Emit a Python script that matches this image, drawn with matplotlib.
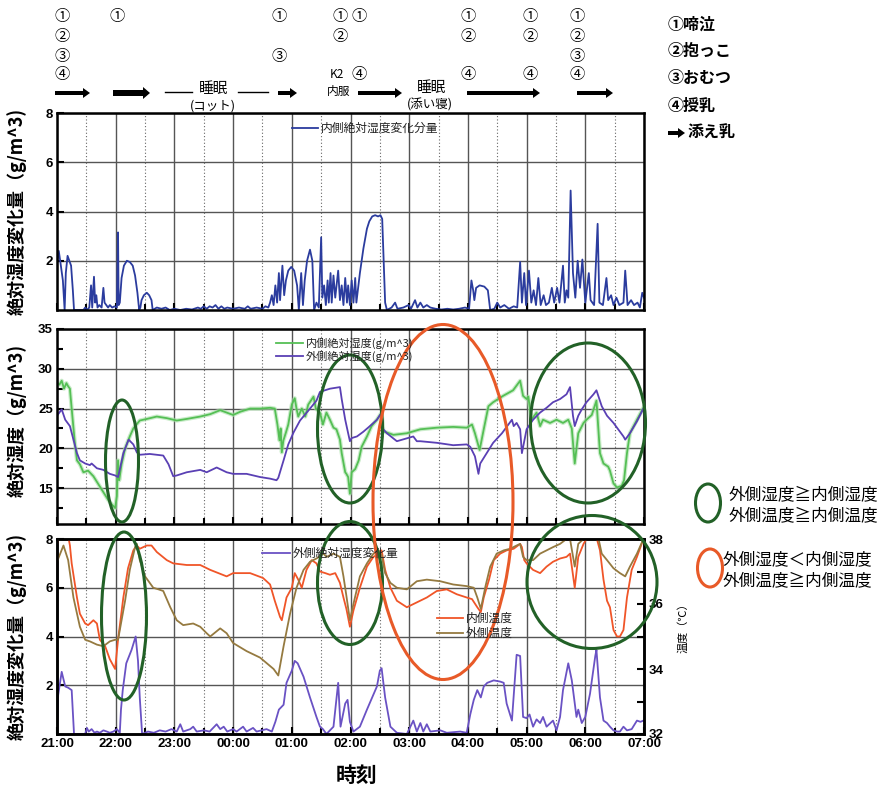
import numpy as np
import matplotlib
matplotlib.use('Agg')
import matplotlib.pyplot as plt
from matplotlib.patches import Ellipse, FancyArrow

plt.rcParams['font.family'] = ['Noto Sans CJK JP', 'DejaVu Sans']

# ---------------- data (time in hours after 21:00) ----------------
hour_labels = ["21:00", "22:00", "23:00", "00:00", "01:00", "02:00",
               "03:00", "04:00", "05:00", "06:00", "07:00"]

# panel 1: 内側絶対湿度変化分量
in_delta_t = [0.00,0.03,0.06,0.10,0.13,0.15,0.18,0.21,0.24,0.27,0.29,
    0.45,0.48,0.51,0.55,0.58,0.60,0.63,0.65,0.67,0.69,0.72,0.76,0.79,0.81,0.84,0.87,0.90,0.94,0.98,1.02,
    1.04,1.05,1.07,1.10,1.14,1.19,1.24,1.29,1.33,1.37,1.40,1.42,1.44,1.48,1.53,1.57,1.61,1.63,
    1.70,1.78,1.85,1.92,2.00,2.10,2.20,2.30,2.40,2.45,2.50,2.55,2.60,2.65,2.70,2.75,2.80,2.85,2.90,
    3.00,3.10,3.20,3.25,3.30,3.40,3.50,3.55,3.60,
    3.63,3.66,3.69,3.72,3.75,3.78,3.80,3.84,3.87,3.90,3.94,3.99,4.04,4.09,4.12,4.16,4.19,4.22,4.26,
    4.31,4.35,4.38,4.42,4.46,4.50,4.52,4.55,4.58,4.61,4.63,
    4.66,4.68,4.71,4.74,4.79,4.82,4.85,4.88,4.91,4.94,4.96,4.99,5.02,5.05,5.08,5.10,5.16,5.22,5.28,
    5.32,5.37,5.42,5.47,5.51,5.54,5.59,5.62,5.70,5.76,5.80,5.90,5.99,6.03,6.10,6.14,6.19,6.24,6.30,
    6.36,6.45,6.55,6.65,6.75,6.85,6.95,7.02,7.06,7.09,7.11,7.14,7.20,7.28,7.34,7.38,7.45,7.50,7.55,
    7.62,7.70,7.78,7.84,7.89,7.92,7.96,7.99,8.04,8.08,8.12,8.16,8.20,8.24,8.29,8.33,8.38,8.43,8.47,
    8.52,8.56,8.62,8.65,8.68,8.71,8.75,8.79,8.83,8.87,8.91,8.95,9.00,9.06,9.09,9.15,9.21,9.24,9.30,
    9.36,9.39,9.44,9.48,9.53,9.58,9.65,9.68,9.72,9.78,9.83,9.89,9.93,9.97,10.0]
in_delta_v = [1.9,2.4,1.9,1.2,0.0,1.5,2.2,2.0,1.8,0.8,0.0,
    0.0,0.1,0.0,0.1,1.0,0.1,1.35,0.3,0.6,0.1,0.2,0.1,0.9,0.3,0.2,0.1,0.2,0.1,0.15,0.1,
    3.15,0.2,0.3,1.3,1.8,2.0,1.95,1.8,1.4,0.7,0.0,0.1,0.4,0.6,0.7,0.6,0.4,0.0,
    0.1,0.05,0.1,0.0,0.05,0.0,0.05,0.02,0.1,0.05,0.15,0.05,0.15,0.1,0.2,0.05,0.15,0.05,0.1,
    0.05,0.1,0.05,0.15,0.05,0.1,0.05,0.15,0.1,
    0.3,0.6,0.2,1.0,0.3,1.5,0.4,1.8,0.6,1.2,1.6,1.75,1.6,1.0,0.0,1.5,0.2,1.2,2.0,
    2.45,2.0,0.0,0.3,0.1,2.95,0.5,1.0,0.2,1.2,0.3,
    1.5,0.3,1.4,0.5,1.6,0.4,1.0,0.2,1.3,0.3,1.0,0.2,1.2,0.3,1.3,0.3,1.5,2.5,3.3,
    3.6,3.8,3.85,3.8,3.85,3.7,0.3,0.0,0.1,0.3,0.05,0.1,0.2,0.05,0.4,0.1,0.3,0.1,0.2,
    0.1,0.05,0.02,0.05,0.02,0.05,0.1,0.05,1.2,0.8,0.4,0.9,1.0,0.95,0.8,0.0,0.05,0.3,0.1,
    0.2,0.05,0.15,0.1,1.95,0.3,1.5,0.2,1.6,0.3,0.8,0.2,1.3,0.2,0.6,0.2,0.3,0.9,0.3,
    0.9,0.3,1.8,0.3,0.8,0.5,4.85,1.5,0.5,2.0,0.9,2.05,0.3,1.5,0.4,0.2,3.5,0.3,0.2,
    1.3,0.4,0.6,0.2,0.5,0.2,0.3,1.6,0.2,0.4,0.2,0.3,0.1,0.7,0.5]

# panel 2: 内側絶対湿度 / 外側絶対湿度
in_abs_t = [0.00,0.04,0.08,0.12,0.16,0.19,0.22,0.25,0.30,0.34,0.39,0.45,0.53,0.62,0.705,0.79,0.875,
    0.93,0.99,1.02,1.04,1.06,1.10,1.16,1.24,1.30,1.41,1.53,1.70,1.87,2.04,2.21,2.44,2.61,2.78,2.89,
    3.00,3.12,3.29,3.46,3.63,3.71,3.755,3.79,3.81,3.83,3.857,3.90,3.94,4.00,4.05,4.08,4.11,4.17,
    4.23,4.28,4.37,4.41,4.48,
    4.53,4.59,4.65,4.71,4.76,4.82,4.85,4.91,4.93,4.96,4.99,5.02,5.08,5.14,5.19,5.28,5.36,5.45,5.53,
    5.56,5.62,5.73,5.96,6.19,6.47,6.75,6.98,7.07,7.12,7.20,7.27,7.35,7.43,7.60,7.77,7.89,7.94,8.00,
    8.03,8.08,8.17,8.23,8.28,8.40,8.51,8.62,8.71,8.77,8.82,8.88,8.97,9.02,9.11,9.19,9.25,9.31,9.39,
    9.42,9.48,9.54,9.62,9.66,9.71,9.76,9.88,9.99]
in_abs_v = [28.3,28.0,28.5,27.5,28.2,27.8,27.5,25.0,21.0,18.5,18.0,17.0,17.2,16.5,15.5,14.5,13.5,
    13.0,12.5,14.0,18.5,16.0,18.0,20.0,21.5,22.5,23.5,23.7,24.0,23.8,23.5,23.7,24.0,24.3,24.8,24.5,
    24.2,24.6,25.0,25.0,25.1,25.0,23.0,21.0,22.5,19.5,21.0,22.0,23.0,25.5,26.3,25.0,24.0,25.0,
    24.0,25.5,26.5,25.0,24.5,
    23.0,24.5,23.6,22.6,22.4,21.1,19.4,17.0,16.8,16.4,14.3,17.0,17.4,18.5,20.2,21.5,22.8,23.6,24.5,
    22.1,22.0,21.7,21.9,22.4,22.6,22.7,22.6,23.0,21.9,19.8,22.4,25.3,25.8,26.6,27.3,28.5,26.6,26.2,
    26.5,23.6,24.5,22.8,23.6,23.2,23.6,23.2,23.6,22.5,18.1,21.9,23.2,23.6,24.2,26.0,19.4,18.1,17.7,
    17.2,15.6,15.1,15.3,16.0,19.4,21.9,23.6,25.1]

out_abs_t = [0.00,0.08,0.14,0.22,0.28,0.34,0.39,0.48,0.56,0.59,0.68,0.79,0.90,0.99,1.04,1.08,1.13,
    1.22,1.30,1.36,1.41,1.58,1.81,1.90,1.98,2.04,2.21,2.44,2.55,2.72,2.89,3.00,3.23,3.46,3.63,3.74,
    3.77,3.86,3.94,4.03,4.14,4.31,4.42,
    4.48,4.65,4.82,4.85,4.91,4.96,4.99,5.02,5.11,5.22,5.33,5.45,5.53,5.56,5.62,5.79,6.07,6.13,6.19,
    6.47,6.75,6.98,7.04,7.12,7.18,7.21,7.32,7.43,7.58,7.69,7.75,7.78,7.83,7.89,7.92,8.00,8.11,8.23,
    8.34,8.45,8.57,8.68,8.74,8.79,8.82,8.88,8.94,9.02,9.14,9.19,9.28,9.37,9.48,9.59,9.65,9.68,9.76,
    9.88,9.99]
out_abs_v = [24.1,24.9,23.6,22.8,21.1,19.4,18.5,18.1,17.9,18.1,17.5,17.3,16.8,16.6,16.4,17.7,19.4,
    21.1,20.5,19.5,19.2,19.3,19.1,18.0,16.5,16.6,17.0,17.3,17.0,17.6,17.0,16.8,16.8,16.4,16.2,16.0,
    16.3,18.5,20.5,22.0,23.5,25.0,26.0,
    27.1,27.5,27.7,26.2,23.6,21.9,20.9,21.3,21.5,22.1,22.8,23.6,24.5,22.4,21.9,20.9,21.5,20.9,20.9,
    20.7,20.4,20.5,20.2,19.0,16.8,18.1,19.4,20.7,21.9,23.0,23.6,22.8,23.2,22.4,19.4,22.4,23.6,24.5,
    25.1,25.8,26.2,26.8,27.7,24.1,22.8,24.1,24.9,25.8,26.8,27.3,25.3,24.1,23.2,22.1,21.5,21.1,21.9,
    23.4,25.0]

# panel 3: 外側絶対湿度変化量 (left axis)
out_delta_t = [0.00,0.02,0.08,0.14,0.19,0.25,0.29,0.48,0.51,0.54,0.59,0.64,0.68,0.73,0.79,0.85,0.90,
    0.96,1.02,1.07,1.09,1.12,1.18,1.27,1.34,1.38,1.41,1.45,1.55,1.65,1.75,1.85,1.95,2.04,2.10,2.15,
    2.27,2.32,2.38,2.50,2.60,2.72,2.78,2.84,2.90,3.00,3.06,3.17,3.23,3.34,3.40,3.57,3.66,3.72,3.78,
    3.86,3.91,4.00,4.05,4.10,4.20,4.31,4.42,4.48,
    4.53,4.59,4.71,4.79,4.83,4.91,4.95,4.99,5.05,5.16,5.28,5.37,5.45,5.50,5.53,5.59,5.68,5.79,5.96,
    6.07,6.13,6.19,6.24,6.30,6.36,6.53,6.64,6.87,6.98,7.04,7.10,7.16,7.22,7.27,7.33,7.44,7.55,7.61,
    7.66,7.75,7.83,7.89,7.94,8.00,8.05,8.11,8.17,8.23,8.28,8.34,8.45,8.51,8.57,8.62,8.71,8.77,8.85,
    8.88,8.94,9.00,9.08,9.17,9.19,9.25,9.31,9.37,9.42,9.48,9.54,9.59,9.65,9.71,9.79,9.88,9.94,9.99]
out_delta_v = [0.2,1.6,2.55,1.95,1.9,1.8,0.0,0.0,0.25,0.1,0.2,0.05,0.1,0.05,0.15,0.1,0.05,
    0.1,0.2,0.05,1.0,1.8,2.9,3.45,4.0,3.0,1.5,0.0,0.1,0.05,0.15,0.1,0.2,0.1,0.4,0.1,
    0.2,0.3,0.1,0.15,0.1,0.4,0.2,0.3,0.1,0.2,0.1,0.3,0.1,0.25,0.1,0.2,0.1,0.5,1.0,
    1.2,2.1,2.6,3.0,2.9,2.35,1.5,0.7,0.3,
    0.2,0.0,0.3,2.1,0.3,1.25,1.4,0.5,0.1,0.3,1.0,1.5,1.95,2.6,2.7,1.5,0.3,0.05,0.0,
    0.55,0.1,0.45,0.1,0.4,0.1,0.15,0.05,0.1,0.05,0.8,1.4,1.8,1.5,1.95,2.1,2.2,2.15,2.1,
    1.25,0.55,3.25,3.2,0.7,0.65,0.8,0.3,0.6,0.45,0.7,0.3,0.55,0.15,0.7,1.8,2.9,2.2,0.7,
    1.0,0.45,0.7,1.65,3.2,3.45,1.5,0.55,0.45,0.3,0.15,0.1,0.1,0.3,0.15,0.2,0.55,0.5,0.55]

# panel 3: 内側温度 / 外側温度 (right axis, ℃)
in_temp_t = [0.00,0.05,0.14,0.19,0.22,0.25,0.34,0.39,0.48,0.53,0.62,0.68,0.73,0.82,0.90,0.96,0.99,
    1.04,1.13,1.21,1.30,1.36,1.41,1.53,1.61,1.70,1.87,1.98,2.21,2.44,2.61,2.89,3.00,3.29,3.51,3.63,
    3.71,3.80,3.83,3.91,4.00,4.05,4.11,4.17,4.25,4.34,4.42,
    4.48,4.57,4.65,4.74,4.82,4.88,4.93,4.99,5.05,5.16,5.28,5.39,5.50,5.53,5.59,5.68,5.79,5.96,6.13,
    6.30,6.47,6.64,6.81,6.98,7.07,7.16,7.22,7.27,7.36,7.44,7.55,7.66,7.78,7.89,7.92,7.96,8.00,8.11,
    8.23,8.34,8.45,8.57,8.68,8.74,8.82,8.88,8.97,9.02,9.08,9.19,9.25,9.31,9.37,9.42,9.48,9.54,9.59,
    9.65,9.71,9.79,9.88,9.96,9.99]
in_temp_v = [37.8,38.3,38.3,38.1,37.8,37.25,36.2,35.7,35.4,35.35,35.5,35.4,34.9,34.7,34.3,34.1,34.0,
    34.9,36.2,37.1,37.65,37.8,37.7,37.8,37.8,37.6,37.35,37.25,37.2,37.2,37.05,36.85,36.95,36.95,36.8,36.6,
    36.1,35.6,35.5,36.2,36.5,36.95,36.75,36.5,37.05,37.35,37.25,
    37.0,36.95,36.9,36.95,36.65,36.2,35.85,35.3,35.8,36.5,37.15,37.45,37.55,37.65,37.05,36.5,36.1,35.9,36.05,
    36.2,36.4,36.45,36.3,36.2,36.15,35.9,35.75,36.2,36.75,37.35,37.55,37.65,37.7,37.85,37.75,37.35,37.25,37.05,
    36.95,37.15,37.3,37.4,37.45,37.55,36.5,37.45,37.85,38.0,38.0,38.05,37.65,36.75,36.1,35.9,35.2,35.0,35.0,
    35.2,36.2,37.05,37.45,37.85,38.0]

out_temp_t = [0.00,0.11,0.19,0.28,0.39,0.48,0.56,0.68,0.79,0.90,0.99,1.04,1.07,1.16,1.24,1.33,1.36,
    1.41,1.50,1.64,1.73,1.81,1.93,2.04,2.15,2.32,2.44,2.55,2.61,2.78,2.89,3.00,3.23,3.46,3.69,3.77,
    3.86,3.97,4.08,4.20,4.31,4.42,4.54,
    4.59,4.71,4.82,4.88,4.93,4.99,5.05,5.16,5.28,5.39,5.48,5.53,5.59,5.68,5.79,5.96,6.13,6.30,6.53,
    6.75,6.98,7.10,7.16,7.22,7.30,7.38,7.49,7.61,7.72,7.83,7.89,7.94,8.00,8.11,8.23,8.34,8.45,8.57,
    8.68,8.74,8.82,8.88,8.97,9.02,9.14,9.22,9.28,9.37,9.48,9.59,9.68,9.76,9.88,9.99]
out_temp_v = [37.3,37.8,37.35,36.2,35.3,34.9,34.85,34.75,34.7,34.85,34.9,34.9,35.2,36.1,37.05,37.75,37.85,
    37.35,36.85,36.5,36.45,36.4,35.9,35.5,35.35,35.4,35.3,35.1,35.0,35.25,35.1,34.8,34.55,34.35,34.0,33.8,
    34.7,35.7,36.5,37.05,37.3,37.4,37.55,
    37.45,37.55,37.45,36.85,36.25,35.5,36.0,36.85,37.25,37.55,37.65,37.5,36.95,36.65,36.5,36.45,36.7,36.75,36.7,
    36.6,36.55,36.5,36.2,35.85,36.55,37.15,37.55,37.65,37.7,37.8,37.85,37.45,37.35,37.35,37.55,37.65,37.75,37.85,
    38.0,38.0,37.15,37.85,38.0,38.05,38.0,38.05,37.55,37.35,37.1,36.95,36.85,37.15,37.55,38.0]

# ---------------- layout ----------------
W, H = 885, 785
fig = plt.figure(figsize=(W / 100, H / 100), dpi=100)


def px_axes(l, t, r, b):
    return fig.add_axes([l / W, 1 - b / H, (r - l) / W, (b - t) / H])


TICKFONT = dict(family='Liberation Sans', weight='bold', size=9.5)


def style(ax, ylim, major, minor, xlabels=False):
    ax.set_xlim(0, 10)
    ax.set_ylim(*ylim)
    ax.set_xticks(np.arange(0, 11, 1))
    ax.set_xticks(np.arange(0.5, 10, 1), minor=True)
    ax.set_yticks(major)
    ax.set_yticks(minor, minor=True)
    ax.grid(True, which='major', color='#555555', lw=1.0)
    ax.grid(True, which='minor', axis='x', color='#666666', lw=0.8, ls=(0, (1, 2)))
    ax.set_axisbelow(True)
    for s in ax.spines.values():
        s.set_linewidth(1.8)
    ax.tick_params(which='both', direction='in', width=1.5, top=False)
    ax.tick_params(which='major', length=5, pad=3)
    ax.tick_params(which='minor', length=4)
    ax.set_yticklabels([('%g' % v) for v in major], fontdict=TICKFONT)
    if xlabels:
        ax.set_xticklabels(hour_labels, fontdict=TICKFONT)
    else:
        ax.set_xticklabels([])


ax1 = px_axes(57, 113, 644, 310)
ax2 = px_axes(57, 329, 644, 524)
ax3 = px_axes(57, 539, 644, 734)

style(ax1, (0, 8), [2, 4, 6, 8], [])
style(ax2, (10.5, 35), [15, 20, 25, 30, 35], [12.5, 17.5, 22.5, 27.5, 32.5])
style(ax3, (0, 8), [2, 4, 6, 8], [1, 3, 5, 7], xlabels=True)
ax3.tick_params(axis='y', which='minor', length=0)

ax3r = ax3.twinx()
ax3r.set_ylim(32, 38)
ax3r.set_yticks([32, 34, 36, 38])
ax3r.set_yticks([33, 35, 37], minor=True)
ax3r.tick_params(which='both', direction='in', width=1.5)
ax3r.tick_params(which='major', length=5)
ax3r.tick_params(which='minor', length=5)
ax3r.set_yticklabels(['32', '34', '36', '38'], fontdict=TICKFONT)
for s in ax3r.spines.values():
    s.set_linewidth(1.8)

C_NAVY = '#2b3c9e'
C_GREEN = '#55bf55'
C_PURP2 = '#5a40b4'
C_PURP3 = '#6a52c4'
C_ORANGE = '#f05528'
C_BROWN = '#957a40'

ax1.plot(in_delta_t, in_delta_v, color=C_NAVY, lw=1.3)
ax2.plot(in_abs_t, in_abs_v, color='#a8e0a8', lw=3.0, alpha=0.6)
ax2.plot(in_abs_t, in_abs_v, color=C_GREEN, lw=1.3)
ax2.plot(out_abs_t, out_abs_v, color=C_PURP2, lw=1.3)
ax3.plot(out_delta_t, out_delta_v, color=C_PURP3, lw=1.3)
ax3r.plot(in_temp_t, in_temp_v, color=C_ORANGE, lw=1.3)
ax3r.plot(out_temp_t, out_temp_v, color=C_BROWN, lw=1.3)

# ---------------- overlay in pixel units ----------------
axo = fig.add_axes([0, 0, 1, 1], zorder=10)
axo.set_xlim(0, W)
axo.set_ylim(H, 0)
axo.axis('off')

def txt(x, y, s, size=10, ha='center', va='center', **kw):
    axo.text(x, y, s, fontsize=size, ha=ha, va=va, **kw)

# y labels
LBL = dict(size=13, weight='bold', rotation=90)
txt(17, 211, '絶対湿度変化量（g/m^3)', **LBL)
txt(17, 420, '絶対湿度（g/m^3)', **LBL)
txt(17, 636, '絶対湿度変化量（g/m^3)', **LBL)
txt(683, 625, '温度（℃）', size=8, rotation=90)
txt(357, 775, '時刻', size=15, weight='bold')

# event markers at top
CIRC = ['①', '②', '③', '④']
row_y = [17, 36, 56, 75]
cols = [(62, [0, 1, 2, 3]), (117, [0]), (279, [0, 2]), (340, [0, 1]), (359, [0, 3]),
        (468, [0, 1, 3]), (530, [0, 1, 3]), (577, [0, 1, 2, 3])]
for cx, idxs in cols:
    for i in idxs:
        txt(cx, row_y[i], CIRC[i], size=11)
txt(337, 75, 'K2', size=8.5)
txt(339, 91, '内服', size=8.5)

arrows = [(55, 90, 4), (113, 150, 6), (278, 297, 4), (358, 402, 4), (467, 540, 4), (577, 613, 4)]
for x1, x2, wdt in arrows:
    axo.add_patch(FancyArrow(x1, 93, x2 - x1, 0, width=wdt, head_width=wdt + 6,
                             head_length=7, length_includes_head=True,
                             color='black', lw=0))
axo.plot([165, 192], [92, 92], color='black', lw=1)
axo.plot([238, 268], [92, 92], color='black', lw=1)
txt(213, 89, '睡眠', size=10.5)
txt(213, 106, '(コット)', size=9)
txt(432, 88, '睡眠', size=10.5)
txt(430, 105, '(添い寝)', size=9)

# right legend (events)
for i, s in enumerate(['①啼泣', '②抱っこ', '③おむつ', '④授乳']):
    txt(668, [25, 51, 78, 106][i], s, size=11.5, ha='left', weight='bold')
axo.add_patch(FancyArrow(668, 133, 17, 0, width=4, head_width=10, head_length=7,
                         length_includes_head=True, color='black', lw=0))
txt(688, 133, '添え乳', size=11.5, ha='left', weight='bold')

# panel legends
def leg(x1, x2, y, color, label, size=8.5):
    axo.plot([x1, x2], [y, y], color=color, lw=1.3)
    txt(x2 + 3, y, label, size=size, ha='left', color='#222222')

leg(292, 318, 128, C_NAVY, '内側絶対湿度変化分量')
leg(276, 303, 343, C_GREEN, '内側絶対湿度(g/m^3)', size=8)
leg(276, 303, 356, C_PURP2, '外側絶対湿度(g/m^3)', size=8)
leg(262, 290, 553, C_PURP3, '外側絶対湿度変化量')
leg(437, 463, 618, C_ORANGE, '内側温度')
leg(437, 463, 633, C_BROWN, '外側温度')

# highlight ellipses
C_EG = '#226127'
C_EO = '#e85a28'
ells = [(122, 461, 33, 122, C_EG), (350, 429, 65, 148, C_EG), (588, 423, 115, 160, C_EG),
        (124, 616, 45, 168, C_EG), (350, 583, 65, 123, C_EG), (592, 582, 130, 133, C_EG),
        (443, 502, 140, 355, C_EO), (708, 503, 25, 38, C_EG), (710, 568, 25, 38, C_EO)]
for cx, cy, w, h, c in ells:
    axo.add_patch(Ellipse((cx, cy), w, h, fill=False, edgecolor=c, lw=2.2))

txt(729, 495, '外側湿度≧内側湿度', size=12, ha='left')
txt(729, 516, '外側温度≧内側温度', size=12, ha='left')
txt(723, 560, '外側湿度＜内側湿度', size=12, ha='left')
txt(723, 581, '外側温度≧内側温度', size=12, ha='left')

fig.savefig('out.png', dpi=100)
